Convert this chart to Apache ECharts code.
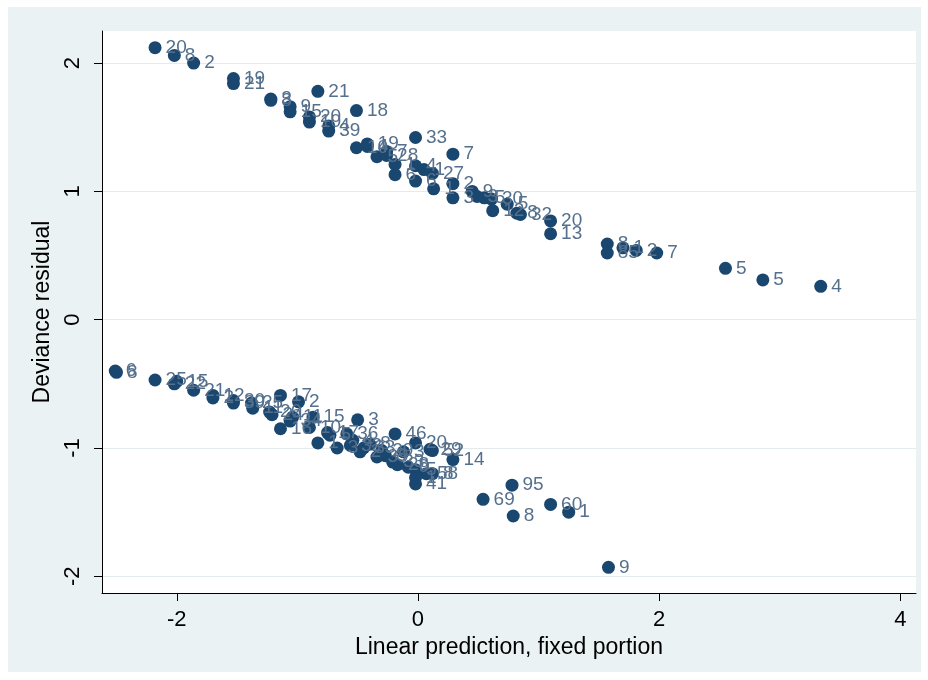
<!DOCTYPE html>
<html>
<head>
<meta charset="utf-8">
<script src="https://cdn.jsdelivr.net/npm/echarts@6/dist/echarts.min.js"></script>
<style>
  html, body { margin: 0; padding: 0; background: #ffffff; }
  #bg { position: absolute; left: 8px; top: 7px; width: 913px; height: 665px; background: #eaf2f3; }
  #main { position: absolute; left: 0; top: 0; width: 928px; height: 680px; }
</style>
</head>
<body>
<div id="bg"></div>
<div id="main"></div>
<script>
// Upper band: linear prediction (x), deviance residual (y), id labels
const upperX = [-2.18, -2.02, -1.86, -1.53, -1.53, -1.22, -1.22, -0.83, -1.06, -1.06, -0.90, -0.90, -0.74, -0.74,
  -0.51, -0.51, -0.42, -0.42, -0.34, -0.26, -0.26, -0.19, -0.19, -0.02, 0.29, -0.02, -0.02, 0.12, 0.13, 0.05,
  0.29, 0.29, 0.45, 0.49, 0.55, 0.61, 0.62, 0.74, 0.82, 0.85, 1.10, 1.10, 1.57, 1.57, 1.70, 1.81, 1.98, 2.55, 2.86, 3.34];
const upperY = [2.12, 2.06, 2.00, 1.88, 1.84, 1.72, 1.71, 1.78, 1.66, 1.62, 1.58, 1.54, 1.51, 1.47,
  1.63, 1.34, 1.37, 1.35, 1.27, 1.31, 1.28, 1.21, 1.13, 1.42, 1.29, 1.20, 1.08, 1.14, 1.02, 1.17,
  1.06, 0.95, 1.00, 0.96, 0.95, 0.94, 0.85, 0.90, 0.83, 0.82, 0.77, 0.67, 0.59, 0.52, 0.56, 0.54, 0.52, 0.40, 0.31, 0.26];
const upperLbl = ["20", "8", "2", "19", "21", "3", "8", "21", "9", "15", "20", "10", "4", "39",
  "18", "10", "19", "4", "5", "7", "28", "1", "6", "33", "7", "4", "6", "27", "1", "1",
  "2", "3", "9", "3", "5", "30", "12", "5", "8", "32", "20", "13", "8", "85", "1", "2", "7", "5", "5", "4"];

// Lower band
const lowerX = [-2.51, -2.50, -2.18, -2.02, -2.00, -1.86, -1.70, -1.70, -1.53, -1.53, -1.38, -1.37, -1.23, -1.21,
  -1.14, -1.14, -1.06, -1.04, -0.99, -0.90, -0.87, -0.83, -0.75, -0.73, -0.67, -0.59, -0.50, -0.54, -0.45, -0.34,
  -0.40, -0.30, -0.21, -0.19, -0.12, -0.02, 0.10, 0.12, 0.29, -0.02, 0.07, -0.02, -0.08, -0.02, 0.12,
  -0.56, -0.48, -0.27, -0.17, 0.54, 0.78, 0.79, 1.10, 1.25, 1.58];
const lowerY = [-0.40, -0.41, -0.47, -0.50, -0.48, -0.55, -0.59, -0.61, -0.63, -0.65, -0.65, -0.69, -0.72, -0.74,
  -0.59, -0.85, -0.79, -0.76, -0.64, -0.84, -0.76, -0.96, -0.88, -0.90, -1.00, -0.89, -0.78, -0.94, -1.00, -1.07,
  -0.97, -1.02, -1.11, -0.89, -1.03, -0.96, -1.01, -1.02, -1.09, -1.17, -1.20, -1.28, -1.15, -1.23, -1.20,
  -0.98, -1.03, -1.06, -1.13, -1.40, -1.29, -1.53, -1.44, -1.50, -1.93];
const lowerLbl = ["6", "8", "25", "22", "15", "21", "12", "2", "30", "39", "25", "11", "26", "24",
  "17", "16", "34", "11", "2", "10", "15", "1", "17", "5", "3", "36", "3", "4", "33", "39",
  "8", "29", "33", "46", "3", "20", "29", "52", "14", "5", "58", "41", "9", "1", "8",
  "32", "2", "8", "28", "69", "95", "8", "60", "1", "9"];

const xTicks = [-2, 0, 2, 4];
const yTicks = [-2, -1, 0, 1, 2];

function build(xs, ys, ls) {
  return xs.map((x, i) => [x, ys[i], ls[i]]);
}

const FONT = 'Liberation Sans, Arial, sans-serif';
const labelStyle = {
  show: true,
  position: 'right',
  distance: 4,
  color: '#55708d',
  fontSize: 19,
  fontFamily: FONT,
  formatter: p => p.data[2]
};

const chart = echarts.init(document.getElementById('main'), null, { renderer: 'canvas' });
chart.setOption({
  animation: false,
  backgroundColor: 'transparent',
  grid: {
    left: 102, right: 12, top: 31, bottom: 87,
    show: true, backgroundColor: '#ffffff', borderWidth: 0
  },
  xAxis: {
    type: 'value',
    min: -2.62, max: 4.13,
    name: 'Linear prediction, fixed portion',
    nameLocation: 'middle',
    nameGap: 36,
    nameTextStyle: { fontSize: 23, color: '#000', fontFamily: FONT },
    axisLine: { show: true, onZero: false, lineStyle: { color: '#000', width: 1 } },
    axisTick: { show: true, length: 8, customValues: xTicks, lineStyle: { color: '#000' } },
    axisLabel: { customValues: xTicks, fontSize: 22, color: '#000', fontFamily: FONT, margin: 16 },
    splitLine: { show: false }
  },
  yAxis: {
    type: 'value',
    min: -2.13, max: 2.25,
    name: 'Deviance residual',
    nameLocation: 'middle',
    nameGap: 38,
    nameTextStyle: { fontSize: 23, color: '#000', fontFamily: FONT },
    axisLine: { show: true, onZero: false, lineStyle: { color: '#000', width: 1 } },
    axisTick: { show: true, length: 8, customValues: yTicks, lineStyle: { color: '#000' } },
    axisLabel: { customValues: yTicks, rotate: 90, fontSize: 22, color: '#000', fontFamily: FONT, margin: 18 },
    splitLine: { show: true, lineStyle: { color: '#e4ebee', width: 1 } }
  },
  series: [
    {
      type: 'scatter',
      symbolSize: 13,
      itemStyle: { color: '#1a476f', opacity: 1 },
      label: labelStyle,
      data: build(upperX, upperY, upperLbl)
    },
    {
      type: 'scatter',
      symbolSize: 13,
      itemStyle: { color: '#1a476f', opacity: 1 },
      label: labelStyle,
      data: build(lowerX, lowerY, lowerLbl)
    }
  ]
});
</script>
</body>
</html>
